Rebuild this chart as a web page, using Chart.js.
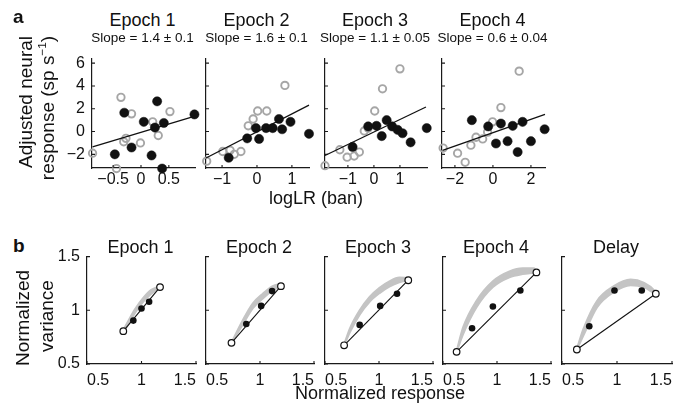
<!DOCTYPE html>
<html>
<head>
<meta charset="utf-8">
<script src="https://cdn.jsdelivr.net/npm/chart.js@4.4.0/dist/chart.umd.min.js"></script>
<style>
  body { margin: 0; background: #fff; }
  #fig { position: relative; width: 686px; height: 410px; overflow: hidden;
         font-family: "Liberation Sans", Arial, sans-serif; color: #111; }
  #fig canvas { position: absolute; }
  .t { position: absolute; white-space: nowrap; line-height: 1; }
  .t sup { font-size: 0.62em; vertical-align: 0.6em; line-height: 0; }
</style>
</head>
<body>
<div id="fig"></div>
<script>
// ---------- data ----------
// panel a: [logLR, adjusted response]
const topGray1 = [[-0.87,-1.9],[-0.36,3.0],[-0.17,1.55],[-0.27,-0.6],[-0.31,-0.9],[-0.01,-1.0],[0.21,0.85],[0.31,-0.35],[0.52,1.75],[-0.44,-3.25]];
const topBlack1 = [[-0.47,-2.0],[-0.30,1.65],[-0.17,-1.4],[0.05,0.85],[0.29,2.65],[0.25,0.35],[0.41,0.75],[0.19,-2.1],[0.38,-3.25],[0.96,1.5]];
const topFit1 = [[-0.87,-1.35],[0.97,1.35]];

const topGray2 = [[-1.44,-2.6],[-0.98,-1.75],[-0.77,-1.65],[-0.65,-2.0],[-0.46,-1.75],[-0.25,0.5],[-0.11,1.1],[0.02,1.8],[0.28,1.8],[0.80,4.05]];
const topBlack2 = [[-0.81,-2.3],[-0.28,-0.6],[-0.03,0.3],[0.06,-0.65],[0.26,0.3],[0.45,0.3],[0.63,1.1],[0.72,0.2],[0.96,0.85],[1.49,-0.2]];
const topFit2 = [[-1.46,-2.32],[1.49,2.32]];

const topGray3 = [[-1.88,-3.0],[-1.31,-1.6],[-1.03,-2.25],[-0.76,-2.15],[-0.56,-1.8],[-0.37,0.05],[-0.22,0.3],[0.03,1.8],[0.33,3.75],[1.0,5.5]];
const topBlack3 = [[-0.82,-1.35],[-0.22,0.45],[0.10,0.5],[0.30,-0.4],[0.49,1.0],[0.70,0.45],[0.91,0.15],[1.10,-0.15],[1.41,-0.95],[2.03,0.3]];
const topFit3 = [[-1.88,-2.1],[2.0,2.15]];

const topGray4 = [[-2.62,-1.45],[-1.86,-1.9],[-1.46,-2.7],[-1.16,-1.2],[-0.89,-0.5],[-0.54,-0.65],[-0.28,-0.05],[-0.02,0.85],[0.42,2.1],[1.38,5.3]];
const topBlack4 = [[-1.11,1.0],[-0.25,0.45],[0.16,-1.05],[0.42,0.7],[0.77,-0.85],[1.04,0.5],[1.3,-1.8],[1.56,0.85],[2.0,-0.85],[2.72,0.2]];
const topFit4 = [[-2.65,-1.65],[2.74,1.5]];

const topTitles = ['Epoch 1', 'Epoch 2', 'Epoch 3', 'Epoch 4'];
const topSlopes = ['Slope = 1.4 ± 0.1', 'Slope = 1.6 ± 0.1', 'Slope = 1.1 ± 0.05', 'Slope = 0.6 ± 0.04'];
const topXRange = [[-0.88, 0.97], [-1.46, 1.49], [-1.88, 2.04], [-2.68, 2.74]];
const topXTicks = [[-0.5, 0, 0.5], [-1, 0, 1], [-1, 0, 1], [-2, 0, 2]];
const topYTicks = [-2, 0, 2, 4, 6];
const topYRange = [-3.2, 6.4];

// panel b: end points (open), middle points (filled), band [x, upper, lower]
const botEnds1 = [[0.833,0.806],[1.17,1.216]];
const botDots1 = [[0.925,0.904],[1.0,1.017],[1.07,1.08]];
const botBand1 = [[0.833,0.815,0.80],[0.87,0.885,0.855],[0.94,1.01,0.975],[1.02,1.12,1.085],[1.09,1.19,1.155],[1.17,1.225,1.21]];

const botEnds2 = [[0.736,0.697],[1.194,1.225]];
const botDots2 = [[0.873,0.873],[1.011,1.041],[1.112,1.179]];
const botBand2 = [[0.736,0.70,0.695],[0.842,0.91,0.87],[0.934,1.065,1.02],[1.026,1.155,1.11],[1.117,1.225,1.185],[1.194,1.245,1.225]];

const botEnds3 = [[0.677,0.674],[1.271,1.28]];
const botDots3 = [[0.821,0.864],[1.011,1.041],[1.167,1.154]];
const botBand3 = [[0.677,0.68,0.674],[0.730,0.83,0.795],[0.821,1.0,0.96],[0.913,1.125,1.08],[1.005,1.21,1.16],[1.096,1.27,1.22],[1.188,1.305,1.26],[1.271,1.30,1.28]];

const botEnds4 = [[0.626,0.613],[1.365,1.353]];
const botDots4 = [[0.769,0.833],[0.962,1.035],[1.216,1.185]];
const botBand4 = [[0.626,0.62,0.613],[0.687,0.843,0.78],[0.809,1.087,1.026],[0.962,1.271,1.216],[1.115,1.362,1.307],[1.237,1.392,1.337],[1.344,1.392,1.35],[1.365,1.36,1.353]];

const botEnds5 = [[0.635,0.635],[1.353,1.154]];
const botDots5 = [[0.748,0.851],[0.977,1.185],[1.225,1.185]];
const botBand5 = [[0.635,0.64,0.635],[0.695,0.827,0.766],[0.818,1.087,1.026],[0.971,1.225,1.17],[1.124,1.286,1.234],[1.247,1.255,1.213],[1.338,1.185,1.16],[1.353,1.16,1.154]];

const botTitles = ['Epoch 1', 'Epoch 2', 'Epoch 3', 'Epoch 4', 'Delay'];
const botTicks = [0.5, 1, 1.5];
const botRange = [0.5, 1.5];

// ---------- layout ----------
const topRects = [{x:92,w:103},{x:206,w:103},{x:325,w:102},{x:442,w:103}].map(r => ({...r, y:57, h:111}));
const botRects = [{x:87,w:109},{x:206,w:108},{x:325,w:108},{x:443,w:108},{x:562,w:110}].map(r => ({...r, y:255, h:109}));
const PADL = 45, PADR = 20, PADT = 15, PADB = 35;
const AX = '#1a1a1a', GRAY = '#a6a6a6', BAND = '#c4c4c4', INK = '#111';

Chart.defaults.font.family = '"Liberation Sans", Arial, sans-serif';
Chart.defaults.font.size = 16;
Chart.defaults.color = INK;

const fig = document.getElementById('fig');
const pts = arr => arr.map(p => ({x: p[0], y: p[1]}));
const fmt = v => String(v).replace('-', '\u2212');

// small inward tick marks, matlab style
const inwardTicks = {
  id: 'inwardTicks',
  afterDraw(chart) {
    const {ctx, chartArea: a, scales: {x, y}} = chart;
    ctx.save();
    ctx.strokeStyle = AX;
    ctx.lineWidth = 1.1;
    ctx.beginPath();
    x.ticks.forEach(t => { const p = x.getPixelForValue(t.value); ctx.moveTo(p, a.bottom); ctx.lineTo(p, a.bottom - 3); });
    y.ticks.forEach(t => { const p = y.getPixelForValue(t.value); ctx.moveTo(a.left, p); ctx.lineTo(a.left + 3, p); });
    ctx.stroke();
    ctx.restore();
  }
};

function axis(range, ticks, opts) {
  return {
    type: 'linear', min: range[0], max: range[1],
    afterBuildTicks: s => { s.ticks = ticks.map(v => ({value: v})); },
    afterFit: s => { if (s.isHorizontal()) s.height = PADB; else s.width = PADL; },
    grid: {display: false, drawTicks: false},
    border: {display: true, color: AX, width: 1.2},
    ticks: {
      padding: opts.padding, align: opts.align || 'center', autoSkip: false, maxRotation: 0,
      callback: v => opts.labels ? fmt(v) : ''
    }
  };
}

function panel(rect, datasets, xs, ys) {
  const c = document.createElement('canvas');
  const W = rect.w + PADL + PADR, H = rect.h + PADT + PADB;
  c.width = W; c.height = H;
  c.style.width = W + 'px'; c.style.height = H + 'px';
  c.style.left = (rect.x - PADL) + 'px';
  c.style.top = (rect.y - PADT) + 'px';
  fig.appendChild(c);
  new Chart(c, {
    type: 'line',
    data: {datasets},
    options: {
      responsive: false, animation: false,
      layout: {padding: {left: 0, right: PADR, top: PADT, bottom: 0}},
      plugins: {legend: {display: false}, tooltip: {enabled: false}},
      scales: {x: xs, y: ys}
    },
    plugins: [inwardTicks]
  });
}

function text(str, x, baseline, size, extra) {
  const d = document.createElement('div');
  d.className = 't';
  d.innerHTML = str;
  d.style.fontSize = size + 'px';
  d.style.left = x + 'px';
  d.style.top = (baseline - 0.8465 * size) + 'px';
  d.style.transform = 'translateX(-50%)';
  if (extra) Object.assign(d.style, extra);
  fig.appendChild(d);
}

function vtext(str, cx, cy, size) {
  const d = document.createElement('div');
  d.className = 't';
  d.innerHTML = str;
  d.style.fontSize = size + 'px';
  d.style.left = cx + 'px';
  d.style.top = cy + 'px';
  d.style.transform = 'translate(-50%,-50%) rotate(-90deg)';
  fig.appendChild(d);
}

// ---------- panel a ----------
const topGray = [topGray1, topGray2, topGray3, topGray4];
const topBlack = [topBlack1, topBlack2, topBlack3, topBlack4];
const topFit = [topFit1, topFit2, topFit3, topFit4];

topRects.forEach((r, i) => {
  const ds = [
    {data: pts(topFit[i]), showLine: true, borderColor: INK, borderWidth: 1.3, pointRadius: 0, clip: false, order: 0},
    {data: pts(topBlack[i]), showLine: false, pointRadius: 4.6, pointBackgroundColor: INK, pointBorderColor: INK,
     pointBorderWidth: 0.5, clip: false, order: 1},
    {data: pts(topGray[i]), showLine: false, pointRadius: 3.7, pointBackgroundColor: 'rgba(255,255,255,0)',
     pointBorderColor: GRAY, pointBorderWidth: 1.9, clip: false, order: 2}
  ];
  panel(r, ds,
    axis(topXRange[i], topXTicks[i], {padding: 2, labels: true}),
    axis(topYRange, topYTicks, {padding: 7, labels: i === 0}));
  const cx = r.x + r.w / 2 - 1;
  text(topTitles[i], cx, 26, 18);
  text(topSlopes[i], cx, 42, 13.5);
});

// ---------- panel b ----------
const botEnds = [botEnds1, botEnds2, botEnds3, botEnds4, botEnds5];
const botDots = [botDots1, botDots2, botDots3, botDots4, botDots5];
const botBand = [botBand1, botBand2, botBand3, botBand4, botBand5];

botRects.forEach((r, i) => {
  const band = botBand[i];
  const ds = [
    {data: pts(botEnds[i]), showLine: false, pointRadius: 3.3, pointBackgroundColor: '#fff', pointBorderColor: INK,
     pointBorderWidth: 1.2, clip: false, order: 0},
    {data: pts(botDots[i]), showLine: false, pointRadius: 3.3, pointBackgroundColor: INK, pointBorderColor: INK,
     pointBorderWidth: 0, clip: false, order: 1},
    {data: pts(botEnds[i]), showLine: true, borderColor: INK, borderWidth: 1.1, pointRadius: 0, clip: false, order: 2},
    {data: band.map(b => ({x: b[0], y: b[2]})), showLine: true, borderColor: BAND, borderWidth: 2,
     pointRadius: 0, cubicInterpolationMode: 'monotone', fill: false, clip: false, order: 3},
    {data: band.map(b => ({x: b[0], y: b[1]})), showLine: true, borderColor: BAND, borderWidth: 2,
     backgroundColor: BAND, pointRadius: 0, cubicInterpolationMode: 'monotone', fill: '-1', clip: false, order: 4}
  ];
  panel(r, ds,
    axis(botRange, botTicks, {padding: 7, labels: true, align: 'inner'}),
    axis(botRange, botTicks, {padding: 7, labels: i === 0}));
  text(botTitles[i], r.x + r.w / 2 - 1, 253, 18);
});

// ---------- labels ----------
text('a', 13, 23, 19, {fontWeight: 'bold', transform: 'none'});
text('b', 13, 252, 19, {fontWeight: 'bold', transform: 'none'});
vtext('Adjusted neural', 25, 102, 19);
vtext('response (sp s<sup>\u22121</sup>)', 47, 108, 19);
text('logLR (ban)', 316, 204, 18);
vtext('Normalized', 22, 318, 19);
vtext('variance', 46, 316, 19);
text('Normalized response', 380, 399, 18);
</script>
</body>
</html>
